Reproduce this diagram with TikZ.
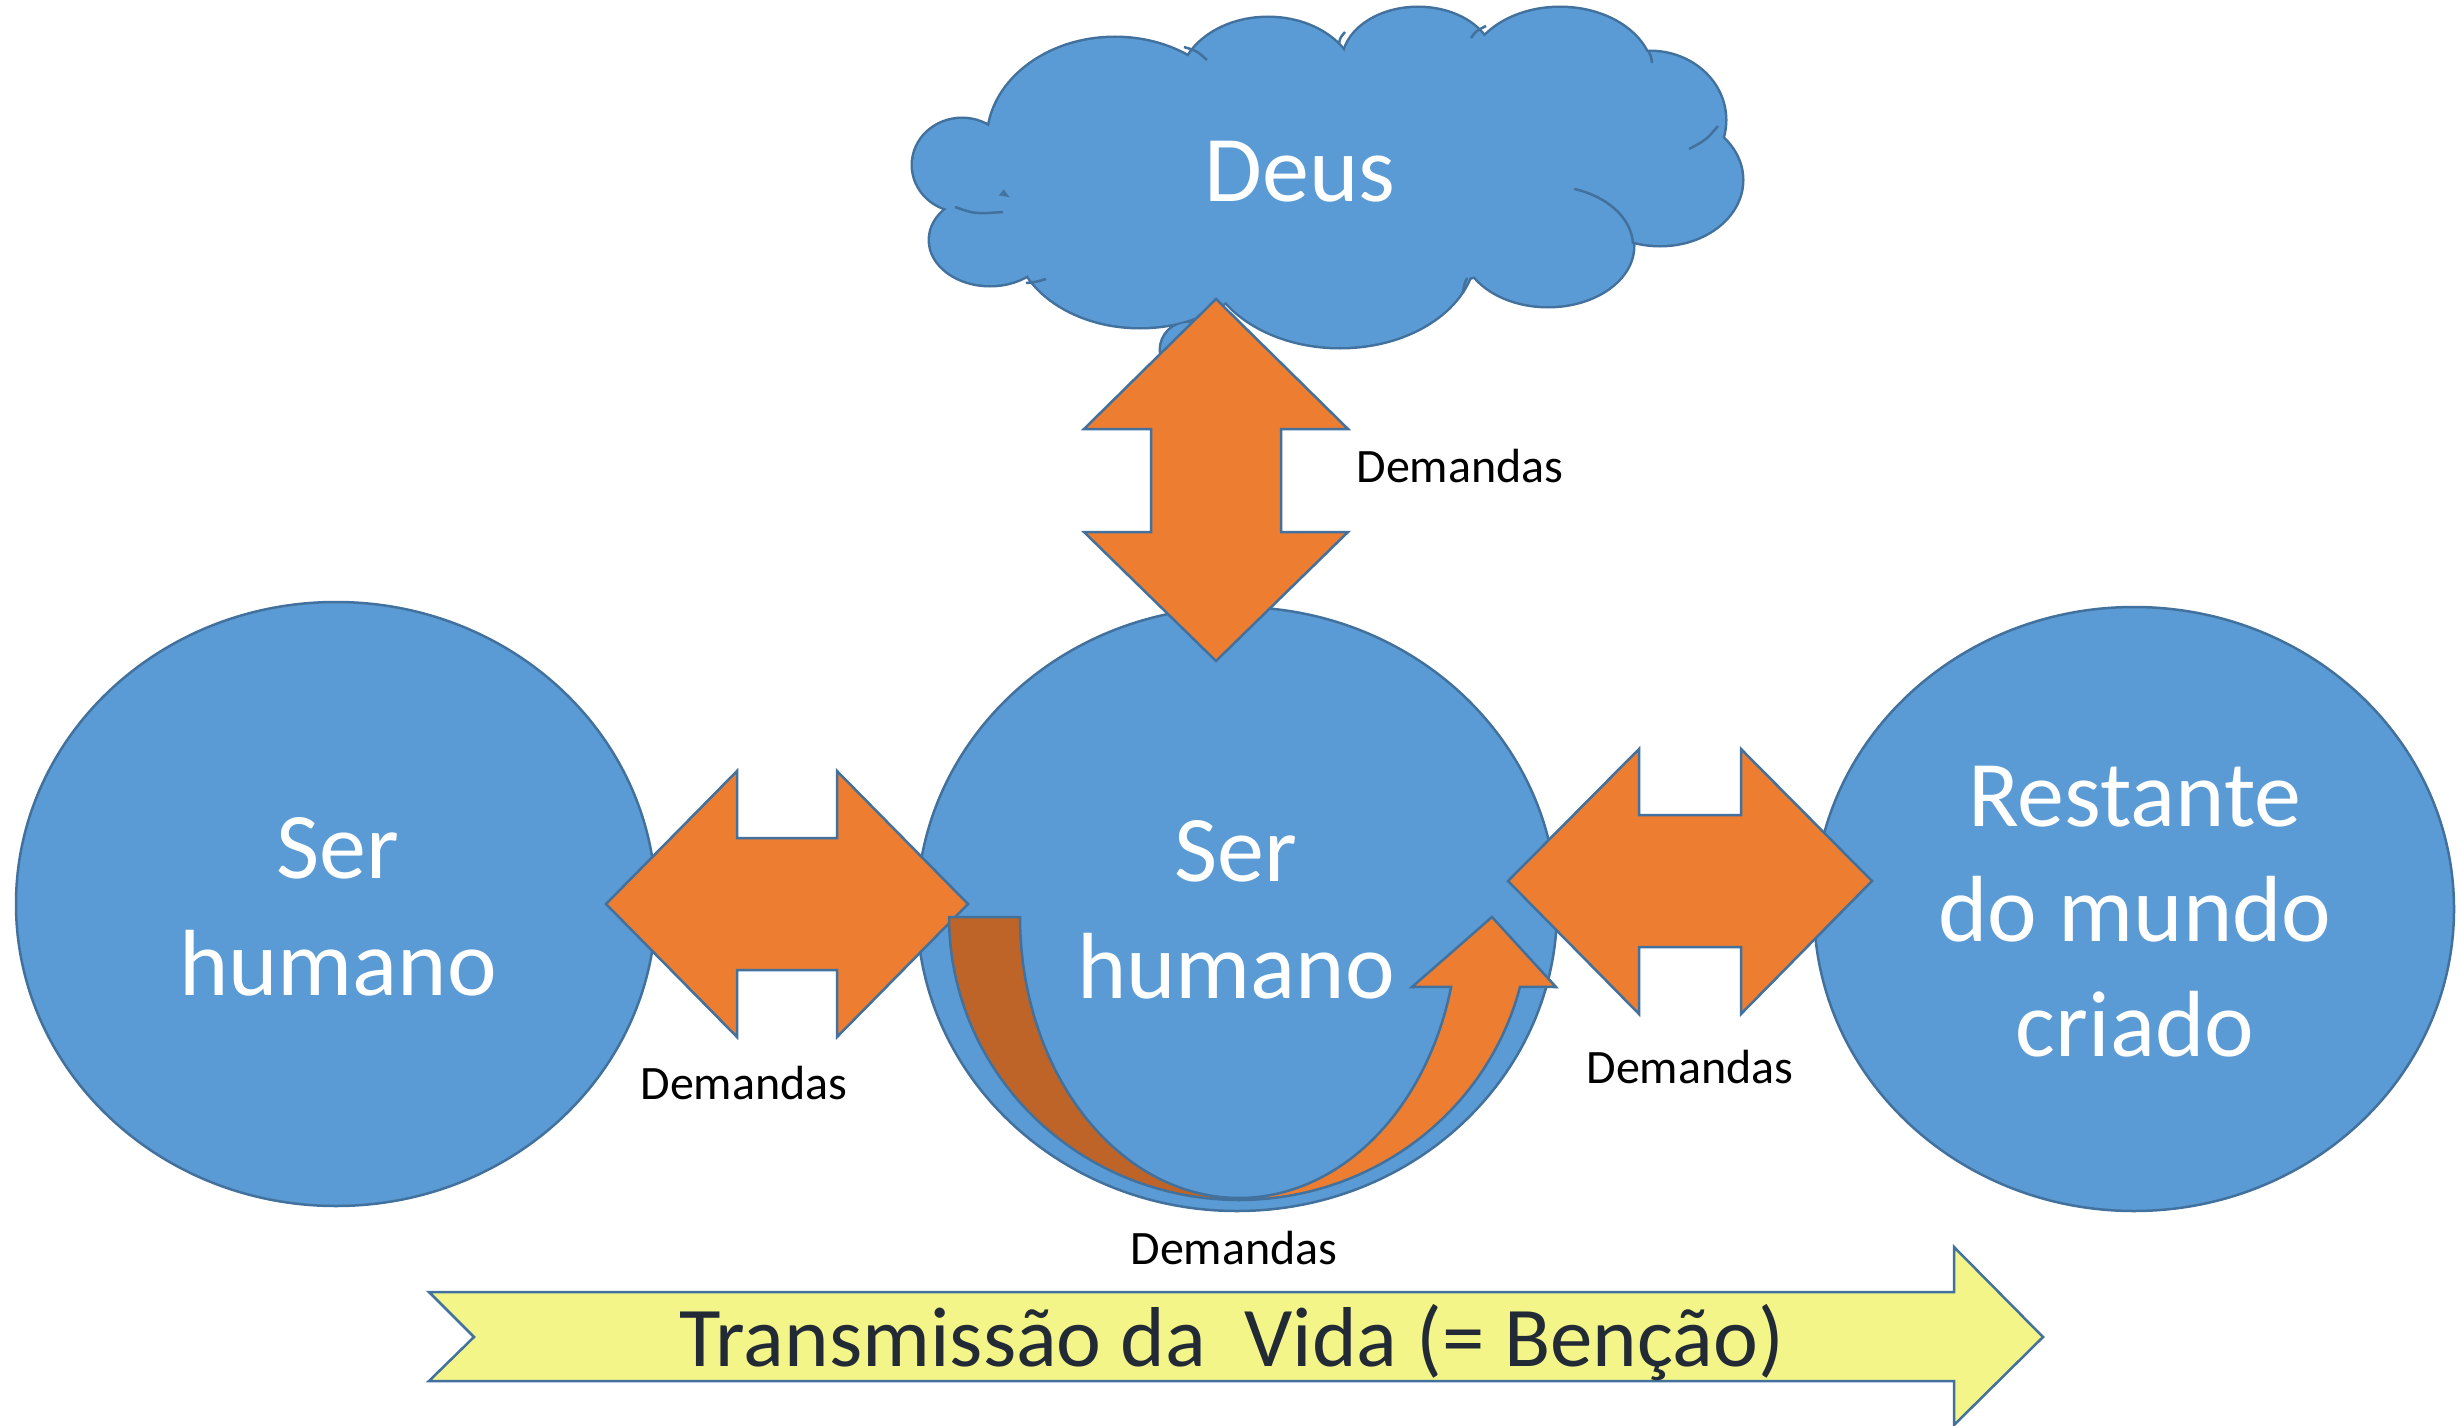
\documentclass[tikz,border=0pt]{standalone}
\usepackage{fontspec}
\setmainfont{Carlito}
\usetikzlibrary{shapes.geometric}
\definecolor{bfill}{HTML}{5B9BD5}
\definecolor{bline}{HTML}{41719C}
\definecolor{oran}{HTML}{ED7D31}
\definecolor{dorange}{HTML}{BE6428}
\definecolor{yel}{HTML}{F3F589}
\definecolor{txtdark}{HTML}{222A35}
\tikzset{
  blob/.style={ellipse, draw=bline, fill=bfill, line width=2.5pt, inner sep=0pt, minimum width=640pt, minimum height=604pt},
  bigtxt/.style={text=white, font=\fontsize{94}{112}\selectfont, anchor=base, inner sep=0pt},
  demtxt/.style={text=black, font=\fontsize{48}{57}\selectfont, anchor=base, inner sep=0pt},
  oarrow/.style={fill=oran, draw=bline, line width=2.5pt, line join=miter},
  edge/.style={draw=bline, line width=2.5pt},
}
\begin{document}
\begin{tikzpicture}[x=1pt, y=-1pt]
\useasboundingbox (0,0) rectangle (2458,1426);
\fill[white] (0,0) rectangle (2458,1426);

% human circles
\node[blob] (hl) at (336,904) {};
\node[blob] (hc) at (1237,909) {};
\node[blob] (hr) at (2134,909) {};

% cloud (union of puffs)
\def\puffs{962/165/49/46, 990/240/60/45, 1140/235/125/92, 1188/350/27/27, 1340/250/135/97, 1548/246/85/60, 1660/180/82/65, 1650/120/75/68, 1560/75/92/67, 1418/62/75/54, 1268/85/88/67, 1115/140/127/102, 1330/180/300/110}
\foreach \cx/\cy/\rx/\ry in \puffs
  \draw[bline, line width=5pt] (\cx,\cy) ellipse [x radius=\rx pt, y radius=\ry pt];
\foreach \cx/\cy/\rx/\ry in \puffs
  \fill[bfill] (\cx,\cy) ellipse [x radius=\rx pt, y radius=\ry pt];
% inner arcs of the cloud
\draw[edge] (955,207) .. controls (975,214) .. (1003,212);
\draw[edge] (1026,283) .. controls (1036,282) .. (1046,279);
\draw[edge] (1184,47) .. controls (1197,51) .. (1207,60);
\draw[edge] (1339,44) .. controls (1340,38) .. (1345,32);
\draw[edge] (1471,38) .. controls (1476,31) .. (1486,26);
\draw[edge] (1649,52) .. controls (1651,56) .. (1652,63);
\draw[edge] (1689,149) .. controls (1706,140) .. (1718,126);
\draw[edge] plot[domain=-72:-2, samples=30] ({1548+85*cos(\x)},{246+60*sin(\x)});
\draw[edge] (1463,293) .. controls (1464,285) .. (1467,278);

% top double arrow
\draw[oarrow] (1216,299) -- (1348,429) -- (1281,429) -- (1281,532) -- (1348,532) -- (1216,661)
  -- (1084,532) -- (1151,532) -- (1151,429) -- (1084,429) -- cycle;
% left double arrow
\draw[oarrow] (606,904) -- (737,771) -- (737,838) -- (837,838) -- (837,771) -- (968,904)
  -- (837,1037) -- (837,970) -- (737,970) -- (737,1037) -- cycle;
% right double arrow
\draw[oarrow] (1508,881) -- (1639,749) -- (1639,815) -- (1741,815) -- (1741,749) -- (1872,881)
  -- (1741,1014) -- (1741,947) -- (1639,947) -- (1639,1014) -- cycle;

% curved arrow inside central circle
\draw[fill=dorange, draw=bline, line width=2.5pt, line join=miter]
  plot[domain=90:180, samples=50] ({1239+290*cos(\x)},{917+283*sin(\x)})
  -- plot[domain=180:90, samples=50] ({1239+219*cos(\x)},{917+281*sin(\x)}) -- cycle;
\draw[oarrow]
  plot[domain=90:14.3, samples=50] ({1239+290*cos(\x)},{917+283*sin(\x)})
  -- (1556,987) -- (1492,917) -- (1412,987)
  -- plot[domain=14.4:90, samples=50] ({1239+219*cos(\x)},{917+281*sin(\x)}) -- cycle;

% yellow arrow
\draw[fill=yel, draw=bline, line width=2.5pt, line join=miter]
  (429,1292) -- (1954,1292) -- (1954,1247) -- (2043,1337) -- (1954,1425) -- (1954,1381)
  -- (429,1381) -- (474,1337) -- cycle;

% texts
\node[bigtxt] (deus) at (1300,201) {Deus};
\node[bigtxt] (l1) at (338,878) {Ser};
\node[bigtxt] (l2) at (338,995) {humano};
\node[bigtxt] (c1) at (1236,881) {Ser};
\node[bigtxt] (c2) at (1236,998) {humano};
\node[bigtxt] (r1) at (2135,826) {Restante};
\node[bigtxt] (r2) at (2135,941) {do mundo};
\node[bigtxt] (r3) at (2135,1056) {criado};
\node[demtxt] (d1) at (1460,482) {Demandas};
\node[demtxt] (d2) at (744,1099) {Demandas};
\node[demtxt] (d3) at (1690,1083) {Demandas};
\node[demtxt] (d4) at (1234,1264) {Demandas};
\node[text=txtdark, font=\fontsize{85}{100}\selectfont, anchor=base, inner sep=0pt] (tv) at (1232,1366) {Transmissão da\ \ Vida (= Benção)};
\end{tikzpicture}
\end{document}
